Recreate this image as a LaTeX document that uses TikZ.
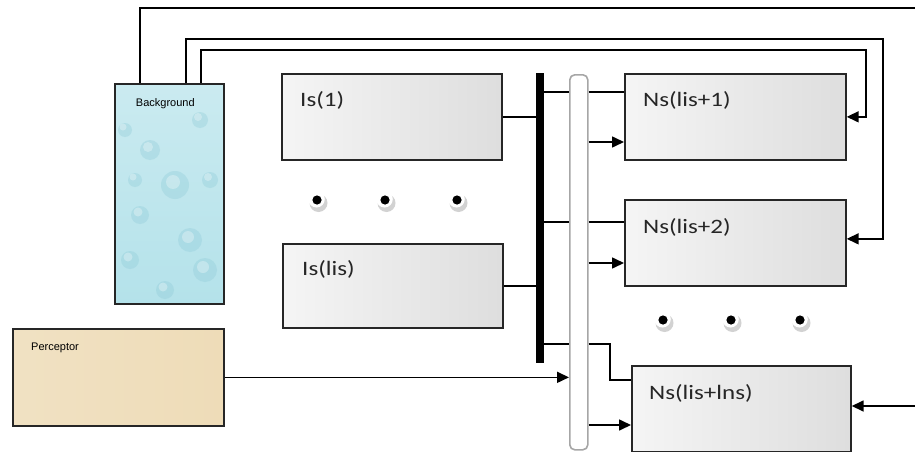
\documentclass[tikz,border=0pt]{standalone}
\usepackage{fontspec}
\setmainfont{Carlito}
\newfontfamily\labfont[FakeStretch=1.22]{Carlito}
\newfontfamily\smallfont{Liberation Sans}
\usetikzlibrary{arrows.meta,calc}
\definecolor{bgcyan}{HTML}{B4E2EA}
\definecolor{bgcyandark}{HTML}{8FCBD8}
\definecolor{beige}{HTML}{EEDCB8}
\begin{document}
\begin{tikzpicture}[x=1pt,y=-1pt,
  box/.style={draw=black!85, line width=1.7pt, anchor=north west, inner sep=0pt},
  marble/.style={box, left color=gray!8, right color=gray!26},
  wire/.style={draw=black, line width=1.6pt},
  arr/.style={wire, -{Triangle[length=12pt,width=11pt]}},
  lab/.style={anchor=north west, font=\labfont\fontsize{20.5}{20.5}\selectfont, text=black!85, inner sep=0pt},
  tinylab/.style={font=\smallfont\fontsize{11}{11}\selectfont, text=black, inner sep=0pt},
]
\useasboundingbox (0,0) rectangle (915,452);

% boxes
\node[box, minimum width=109pt, minimum height=220pt, top color=bgcyan!70, bottom color=bgcyan] (bg) at (114,83) {};
\begin{scope}
  \clip (114,83) rectangle (223,303);
  \foreach \cx/\cy/\r in {175/185/14, 190/240/12, 205/270/12, 140/215/9, 150/150/10, 200/120/8, 130/260/9, 165/290/9, 210/180/8, 135/180/7, 185/330/9, 125/130/7}
    {\fill[bgcyandark, opacity=0.35] (\cx,\cy) circle (\r);
     \fill[white, opacity=0.3] (\cx-2,\cy-3) circle (\r*0.5);}
\end{scope}
\node[box, minimum width=109pt, minimum height=220pt] (bgframe) at (114,83) {};
\node[tinylab] (bgt) at ($(bg.north)+(-4,21)$) {Background};

\node[box, minimum width=211pt, minimum height=97pt, left color=beige!85, right color=beige] (perc) at (12,328) {};
\node[tinylab, anchor=west] (perct) at ($(perc.north west)+(19,20)$) {Perceptor};

\node[marble, minimum width=220pt, minimum height=86pt] (is1) at (281,73) {};
\node[marble, minimum width=220pt, minimum height=84pt] (islis) at (282,243) {};
\node[marble, minimum width=221pt, minimum height=86pt] (ns1) at (624,73) {};
\node[marble, minimum width=221pt, minimum height=86pt] (ns2) at (624,199) {};
\node[marble, minimum width=219pt, minimum height=86pt] (ns3) at (631,365) {};

\node[lab] (is1t) at ($(is1.north west)+(19,18)$) {Is(1)};
\node[lab] (islist) at ($(islis.north west)+(20,17)$) {Is(lis)};
\node[lab] (ns1t) at ($(ns1.north west)+(19,18)$) {Ns(lis+1)};
\node[lab] (ns2t) at ($(ns2.north west)+(19,19)$) {Ns(lis+2)};
\node[lab] (ns3t) at ($(ns3.north west)+(18,19)$) {Ns(lis+lns)};

% buses
\node[anchor=north west, fill=black, inner sep=0pt, minimum width=8pt, minimum height=290pt] (bar) at (536,73) {};
\node[anchor=north west, draw=gray!70, line width=1.6pt, fill=white, rounded corners=5pt, inner sep=0pt, minimum width=18pt, minimum height=375pt] (hol) at (569,74) {};

% dots
\foreach \x/\y in {317/200, 385/200, 457/200, 663/320, 731/320, 800/320} {
  \fill[gray!35] (\x+1.5,\y+3) circle (9);
  \fill[white] (\x-0.5,\y-0.8) circle (8.3);
  \fill[black] (\x,\y) circle (4.6);
}

% coordinates
\coordinate (l1) at (0,92);
\coordinate (l2) at (0,222);
\coordinate (l3) at (0,344);
\coordinate (a1) at (0,142);
\coordinate (a2) at (0,263);
\coordinate (a3) at (0,425);
\coordinate (e3) at (0,380);
\coordinate (k3) at (610,344);
\coordinate (t1) at (915,8);
\coordinate (t2) at (883,39);
\coordinate (t3) at (866,50);
\coordinate (in3) at (915,406);

% Is -> bar
\draw[wire] (is1.east) -- (bar.west |- is1.east);
\draw[wire] (islis.east) -- (bar.west |- islis.east);

% bar -> hollow
\draw[wire] (bar.east |- l1) -- (hol.west |- l1);
\draw[wire] (bar.east |- l2) -- (hol.west |- l2);
\draw[wire] (bar.east |- l3) -- (hol.west |- l3);

% hollow -> Ns
\draw[wire] (hol.east |- l1) -- (ns1.west |- l1);
\draw[wire] (hol.east |- l2) -- (ns2.west |- l2);
\draw[wire] (hol.east |- l3) -- (k3) |- (ns3.west |- e3);
\draw[arr] (hol.east |- a1) -- (ns1.west |- a1);
\draw[arr] (hol.east |- a2) -- (ns2.west |- a2);
\draw[arr] (hol.east |- a3) -- (ns3.west |- a3);

% perceptor
\draw[arr] (perc.east) -- (hol.west |- perc.east);

% background feedback wires
\draw[wire] ($(bg.north west)+(26,0)$) |- (t1);
\draw[arr] ($(bg.north west)+(72,0)$) |- (t2) |- ($(ns2.east)+(0,-4)$);
\draw[arr] ($(bg.north west)+(87,0)$) |- (t3) |- (ns1.east);

% right input
\draw[arr] (in3) -- (ns3.east |- in3);
\end{tikzpicture}
\end{document}
